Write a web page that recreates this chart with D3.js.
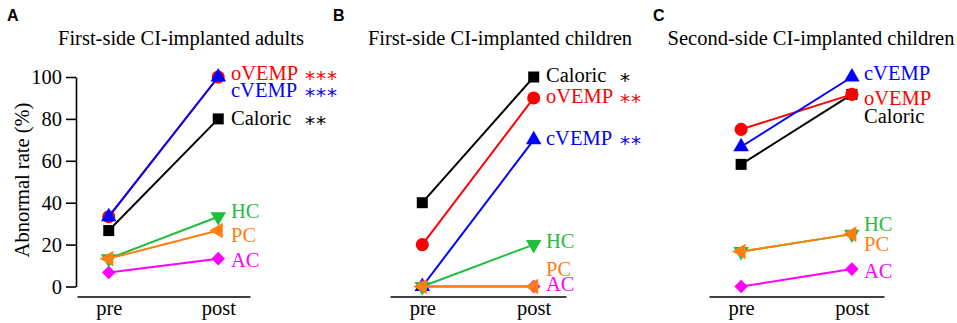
<!DOCTYPE html>
<html lang="en">
<head>
<meta charset="UTF-8">
<title>Abnormal rate before and after CI</title>
<script src="https://d3js.org/d3.v7.min.js"></script>
<style>
    body { margin: 0; background: #fff; }
    svg text { font-family: "Liberation Serif", "Times New Roman", serif; }
    .letter { font-family: "Liberation Sans", Arial, sans-serif !important; font-weight: bold; font-size: 16px; }
    .title { font-size: 20.5px; }
    .axis text { font-size: 20.5px; fill: #000; font-family: "Liberation Serif", serif; }
    .axis path, .axis line { stroke: #000; stroke-width: 1.6px; }
    .lbl { font-size: 20.5px; }
    .stars { font-family: "DejaVu Sans", sans-serif !important; font-size: 20px; letter-spacing: 1px; }
</style>
</head>
<body>
<div id="chart"></div>
<script>
// tests, in drawing order
const tests = ["Caloric", "oVEMP", "cVEMP", "AC", "HC", "PC"];
const colors = ["#000000", "#ff0000", "#0000ff", "#ff00ff", "#1fbe3c", "#ff7f10"];
const conditions = ["pre", "post"];
const yTicks = [0, 20, 40, 60, 80, 100];

// abnormal rate (%) per test
const adultsPre = [26.7, 33.3, 33.3, 6.7, 13.3, 13.3];
const adultsPost = [80, 100, 100, 13.3, 33.3, 26.7];
const adultsStars = ["**", "***", "***", "", "", ""];

const childFirstPre = [40, 20, 0, 0, 0, 0];
const childFirstPost = [100, 90, 70, 0, 20, 0];
const childFirstStars = ["*", "**", "**", "", "", ""];

const childSecondPre = [58.3, 75, 66.7, 0, 16.7, 16.7];
const childSecondPost = [91.7, 91.7, 100, 8.3, 25, 25];
const childSecondStars = ["", "", "", "", "", ""];

// panel layout (pixels)
const panels = [
    { letter: "A", title: "First-side CI-implanted adults", pre: adultsPre, post: adultsPost, stars: adultsStars,
      letterX: 7, titleX: 181, x0: 77, x1: 250, labelX: 231, starX: 305, yAxis: true,
      labelDy: [6, 3, 20, 8, 1, 11] },
    { letter: "B", title: "First-side CI-implanted children", pre: childFirstPre, post: childFirstPost, stars: childFirstStars,
      letterX: 333, titleX: 500, x0: 390, x1: 566, labelX: 546, starX: 620, yAxis: false,
      labelDy: [5, 5, 5, 4, 3, -11] },
    { letter: "C", title: "Second-side CI-implanted children", pre: childSecondPre, post: childSecondPost, stars: childSecondStars,
      letterX: 653, titleX: 811, x0: 709, x1: 884, labelX: 864, starX: 940, yAxis: false,
      labelDy: [29, 11, 3, 9, -3, 17] }
];

const width = 957, height = 323;
const baseY = 296.5;

const svg = d3.select("#chart").append("svg")
    .attr("width", width)
    .attr("height", height);

const y = d3.scaleLinear().domain([0, 100]).range([286.5, 77]);

// marker shape for each test
function marker(i) {
    const tri = d3.symbol().type(d3.symbolTriangle).size(105);
    const sq = d3.symbol().type(d3.symbolSquare);
    switch (tests[i]) {
        case "Caloric": return { d: sq.size(121)(), rot: 0 };
        case "oVEMP": return { d: d3.symbol().type(d3.symbolCircle).size(135)(), rot: 0 };
        case "cVEMP": return { d: tri(), rot: 0 };
        case "AC": return { d: sq.size(92)(), rot: 45 };
        case "HC": return { d: tri(), rot: 180 };
        case "PC": return { d: tri(), rot: -90 };
    }
}

panels.forEach(p => {
    const g = svg.append("g");

    const x = d3.scalePoint().domain(conditions).range([p.x0, p.x1]).padding(0.29);

    g.append("text").attr("class", "letter")
        .attr("x", p.letterX).attr("y", 21).text(p.letter);

    g.append("text").attr("class", "title")
        .attr("x", p.titleX).attr("y", 45)
        .attr("text-anchor", "middle").text(p.title);

    // x axis: a plain baseline with pre/post labels
    g.append("g").attr("class", "axis")
        .attr("transform", `translate(0,${baseY})`)
        .call(d3.axisBottom(x).tickSize(0).tickSizeOuter(0).tickPadding(4));

    if (p.yAxis) {
        g.append("g").attr("class", "axis")
            .attr("transform", `translate(76,0)`)
            .call(d3.axisLeft(y).tickValues(yTicks).tickSize(10).tickSizeOuter(0).tickPadding(4));
        g.append("text")
            .attr("class", "lbl")
            .attr("transform", "translate(29,180) rotate(-90)")
            .attr("text-anchor", "middle")
            .text("Abnormal rate (%)");
    }

    tests.forEach((t, i) => {
        const vals = [p.pre[i], p.post[i]];
        g.append("path")
            .datum(vals)
            .attr("fill", "none")
            .attr("stroke", colors[i])
            .attr("stroke-width", 2)
            .attr("d", d3.line().x((d, j) => x(conditions[j])).y(d => y(d)));

        const m = marker(i);
        vals.forEach((v, j) => {
            g.append("path")
                .attr("d", m.d)
                .attr("fill", colors[i])
                .attr("transform", `translate(${x(conditions[j])},${y(v)}) rotate(${m.rot})`);
        });
    });

    // labels next to the post values
    tests.forEach((t, i) => {
        const ly = y(p.post[i]) + p.labelDy[i];
        g.append("text").attr("class", "lbl")
            .attr("x", p.labelX).attr("y", ly)
            .attr("fill", colors[i]).text(t);
        if (p.stars[i]) {
            g.append("text").attr("class", "stars")
                .attr("x", p.starX).attr("y", ly + 5)
                .attr("fill", colors[i]).text(p.stars[i]);
        }
    });
});
</script>
</body>
</html>
